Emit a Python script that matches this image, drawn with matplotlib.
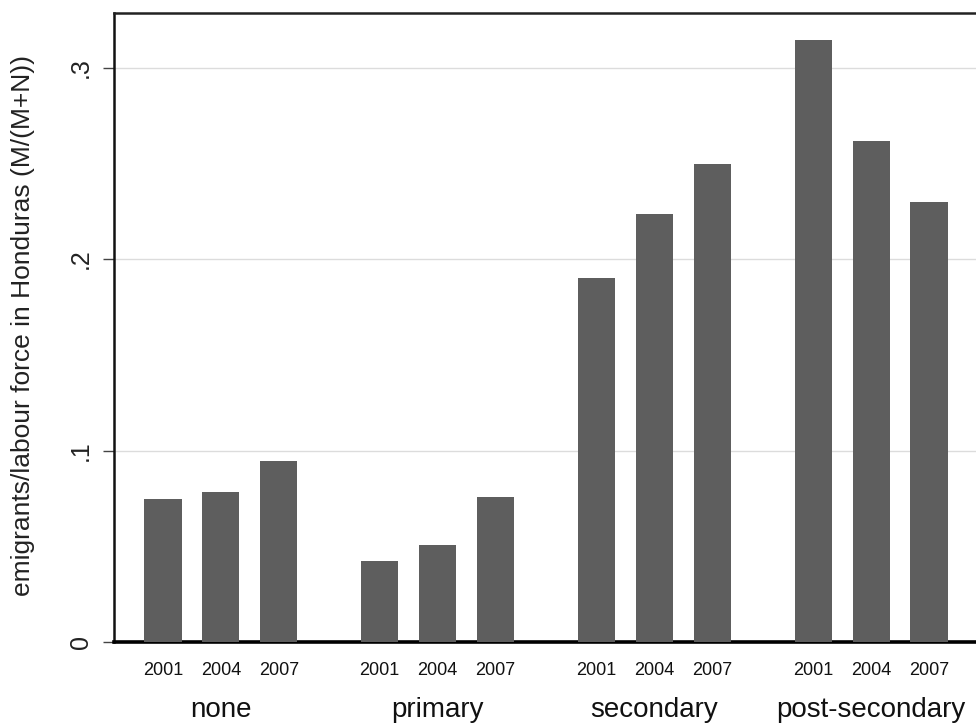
import matplotlib
matplotlib.use("Agg")
import matplotlib.pyplot as plt
from matplotlib.transforms import blended_transform_factory

groups = ["none", "primary", "secondary", "post-secondary"]
years = ["2001", "2004", "2007"]
values = {
    "none": [0.0747, 0.0782, 0.0947],
    "primary": [0.0423, 0.0507, 0.0757],
    "secondary": [0.190, 0.2235, 0.2496],
    "post-secondary": [0.3144, 0.2616, 0.2298],
}
yticks = [0, 0.1, 0.2, 0.3]
yticklabels = ["0", ".1", ".2", ".3"]
ylabel = "emigrants/labour force in Honduras (M/(M+N))"

plt.rcParams['font.family'] = ['Liberation Sans', 'DejaVu Sans']

fig = plt.figure(figsize=(9.76, 7.27), dpi=100)
W, H = 976, 727
ax_top, ax_bot = 13, 642
ax = fig.add_axes([114 / W, 1 - ax_bot / H, (978 - 114) / W, (ax_bot - ax_top) / H])

group_step = 3.74
bar_w = 0.64
xs, hs, labs = [], [], []
for g, name in enumerate(groups):
    for i, y in enumerate(years):
        xs.append(g * group_step + i)
        hs.append(values[name][i])
        labs.append(y)

ax.bar(xs, hs, width=bar_w, color="#5e5e5e", zorder=3)

ax.set_xlim(-0.845, 3 * group_step + 2 + 0.845)
ax.set_ylim(0, 0.3285)

ax.set_yticks(yticks)
ax.set_yticklabels(yticklabels, rotation=90, va="center", fontsize=18, color="#222222")
ax.tick_params(axis="y", length=8, width=1, color="#444444", pad=7)
ax.yaxis.grid(True, color="#dcdcdc", linewidth=1, zorder=0)

ax.set_xticks([])

trans = blended_transform_factory(ax.transData, ax.transAxes)
axh = ax_bot - ax_top
for x, lab in zip(xs, labs):
    ax.text(x, -(675 - ax_bot) / axh, lab, ha="center", va="baseline",
            fontsize=13, color="#111111", transform=trans, clip_on=False)

for g, name in enumerate(groups):
    ax.text(g * group_step + 1, -(717 - ax_bot) / axh, name, ha="center", va="baseline",
            fontsize=20, color="#111111", transform=trans, clip_on=False)

fig.text(23 / W, 1 - 326 / H, ylabel, rotation=90, ha="center", va="center",
         fontsize=19, color="#222222")

ax.spines["left"].set_linewidth(1.8)
ax.spines["left"].set_color("#111111")
ax.spines["bottom"].set_linewidth(2.6)
ax.spines["bottom"].set_color("#000000")
ax.spines["top"].set_linewidth(1.8)
ax.spines["top"].set_color("#222222")
ax.spines["right"].set_visible(False)

fig.savefig("out.png", dpi=100)
